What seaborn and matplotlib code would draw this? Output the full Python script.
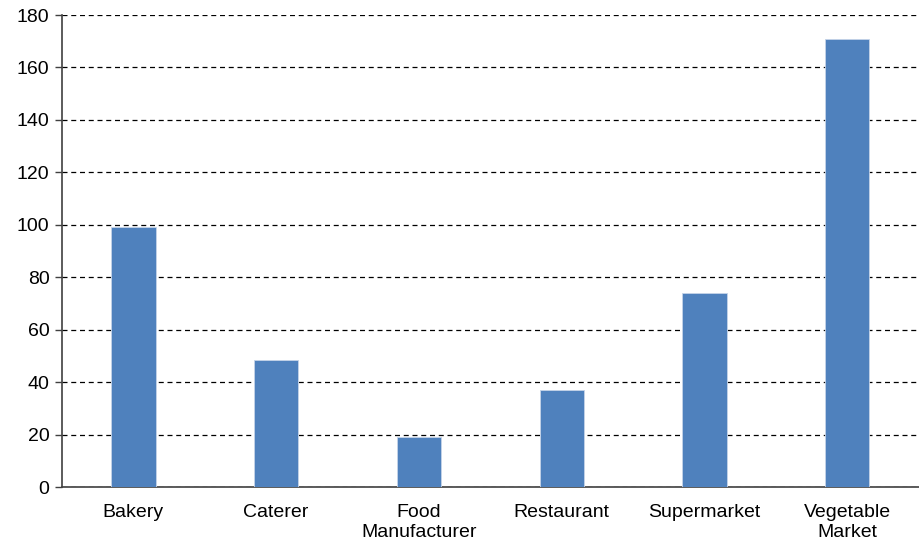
import matplotlib
matplotlib.use("Agg")
import matplotlib.pyplot as plt
import seaborn as sns
import pandas as pd
import numpy as np

categories = ["Bakery", "Caterer", "Food\nManufacturer", "Restaurant", "Supermarket", "Vegetable\nMarket"]
values = [99, 48.5, 19, 37, 74, 171]
yticks = [0, 20, 40, 60, 80, 100, 120, 140, 160, 180]

sns.set_theme(style="white")
plt.rcParams['font.family'] = ['Liberation Sans', 'DejaVu Sans']

df = pd.DataFrame({"cat": categories, "val": values})

fig = plt.figure(figsize=(9.19, 5.46), dpi=100)
ax = fig.add_axes([0.0675, 0.108, 0.932, 0.8645])

sns.barplot(data=df, x="cat", y="val", color="#4F81BD", saturation=1, width=0.31, ax=ax, zorder=3)
for p in ax.patches:
    p.set_edgecolor("#C6D4E8")
    p.set_linewidth(0.6)

ax.set_xlim(-0.5, len(categories) - 0.5)
ax.set_ylim(0, 180)
ax.set_yticks(yticks)
ax.set_yticklabels([str(t) for t in yticks], fontsize=14, color="black")
ax.set_xlabel("")
ax.set_ylabel("")

ax.set_xticks(range(len(categories)))
ax.set_xticklabels(categories, fontsize=14, color="black", linespacing=1.25)
ax.tick_params(axis="x", which="major", length=0, pad=12)
ax.set_xticks(np.arange(-0.5, len(categories), 1.0), minor=True)
ax.tick_params(axis="x", which="minor", direction="in", length=5, width=1, color="#404040")
ax.tick_params(axis="y", which="major", direction="out", length=5, width=1, color="#404040", left=True, pad=4)

ax.yaxis.grid(True, linestyle=(0, (4, 3)), color="black", linewidth=0.9, zorder=0)
ax.set_axisbelow(True)

for s in ["top", "right"]:
    ax.spines[s].set_visible(False)
for s in ["left", "bottom"]:
    ax.spines[s].set_color("#404040")
    ax.spines[s].set_linewidth(1.2)

fig.savefig("out.png", dpi=100)
